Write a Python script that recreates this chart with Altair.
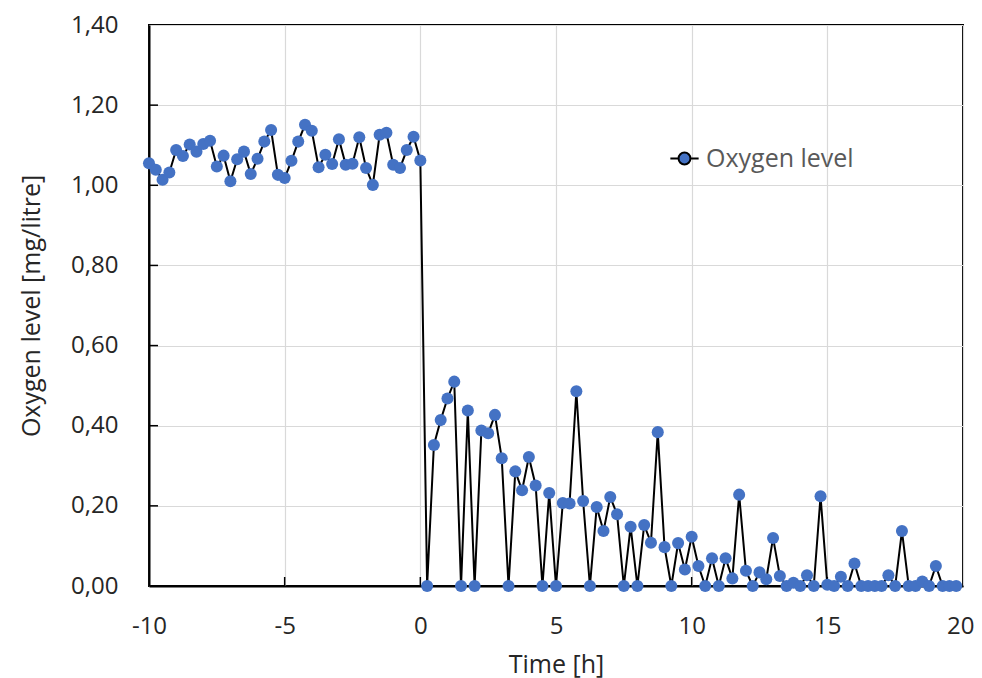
import altair as alt
import pandas as pd

# Time axis: one sample every quarter hour from -10 h to 19.75 h
time_h = [k / 4 for k in range(-40, 80)]

oxygen = [
    # -10 h .. 0 h
    1.055, 1.039, 1.014, 1.032, 1.088, 1.073, 1.102, 1.084, 1.103, 1.111,
    1.047, 1.074, 1.010, 1.065, 1.084, 1.028, 1.066, 1.109, 1.138, 1.026,
    1.018, 1.061, 1.109, 1.151, 1.136, 1.045, 1.076, 1.053, 1.115, 1.051,
    1.054, 1.120, 1.043, 1.001, 1.126, 1.131, 1.051, 1.043, 1.088, 1.121,
    1.062,
    # 0.25 h .. 10 h
    0.000, 0.352, 0.414, 0.468, 0.510, 0.000, 0.438, 0.000, 0.388, 0.381,
    0.427, 0.319, 0.000, 0.286, 0.239, 0.322, 0.251, 0.000, 0.232, 0.000,
    0.207, 0.206, 0.486, 0.212, 0.000, 0.197, 0.137, 0.222, 0.179, 0.000,
    0.148, 0.000, 0.152, 0.108, 0.384, 0.097, 0.000, 0.107, 0.041, 0.123,
    # 10.25 h .. 19.75 h
    0.050, 0.000, 0.069, 0.000, 0.069, 0.019, 0.228, 0.038, 0.000, 0.034,
    0.017, 0.120, 0.025, 0.000, 0.008, 0.000, 0.027, 0.000, 0.224, 0.003,
    0.000, 0.023, 0.000, 0.056, 0.000, 0.000, 0.000, 0.000, 0.027, 0.000,
    0.137, 0.000, 0.000, 0.011, 0.000, 0.050, 0.000, 0.000, 0.000,
]

x_ticks = [-10, -5, 0, 5, 10, 15, 20]
y_ticks = [0.0, 0.2, 0.4, 0.6, 0.8, 1.0, 1.2, 1.4]
series_name = "Oxygen level"

df = pd.DataFrame({"t": time_h, "v": oxygen, "series": series_name})
xt = pd.DataFrame({"t": x_ticks[1:-1]})
yt = pd.DataFrame({"v": y_ticks[1:-1]})

W, H = 814, 561
FONT = "Open Sans"
LABEL_COLOR = "#262626"

x_scale = alt.Scale(domain=[-10, 20], nice=False, zero=False)
y_scale = alt.Scale(domain=[0, 1.4], nice=False)

x_axis = alt.Axis(
    values=x_ticks, title="Time [h]", grid=True, ticks=False, tickSize=0,
    labelExpr="datum.value + ''", labelFlush=False,
    labelAlign={"condition": {"test": "datum.value == 20", "value": "right"},
                "value": "center"},
    labelOffset={"condition": {"test": "datum.value == 20", "value": 11},
                 "value": 0},
    labelPadding=28, titlePadding=14,
)
y_axis = alt.Axis(
    values=y_ticks, title="Oxygen level [mg/litre]", grid=True, ticks=False,
    tickSize=0, labelExpr="replace(format(datum.value, '.2f'), '.', ',')",
    labelFlush=False, labelPadding=31, titlePadding=26,
)

line = alt.Chart(df).mark_line(color="black", strokeWidth=2).encode(
    x=alt.X("t:Q", scale=x_scale, axis=x_axis),
    y=alt.Y("v:Q", scale=y_scale, axis=y_axis),
)

legend_path = (
    "M-1,0L-0.42,0M0.42,0L1,0"
    "M-0.42,0A0.42,0.42,0,1,1,0.42,0A0.42,0.42,0,1,1,-0.42,0Z"
)

points = alt.Chart(df).mark_circle(size=145, opacity=1).encode(
    x="t:Q",
    y="v:Q",
    color=alt.Color(
        "series:N",
        scale=alt.Scale(range=["#4472C4"]),
        legend=alt.Legend(
            title=None, orient="none", legendX=520, legendY=118,
            symbolType=legend_path, symbolSize=800, symbolStrokeColor="black",
            symbolStrokeWidth=2, symbolOpacity=1, labelFontSize=25,
            labelColor="#595959", labelFont=FONT, labelOffset=6,
        ),
    ),
)

ytick_rules = alt.Chart(yt).mark_rule(color="black", strokeWidth=1.5).encode(
    y="v:Q", x=alt.value(0), x2=alt.value(9)
)
xtick_rules = alt.Chart(xt).mark_rule(color="black", strokeWidth=1.5).encode(
    x="t:Q", y=alt.value(H), y2=alt.value(H - 9)
)

chart = (
    alt.layer(line, ytick_rules, xtick_rules, points)
    .properties(
        width=W, height=H,
        autosize=alt.AutoSizeParams(type="none"),
        padding={"left": 141, "top": 17, "right": 11, "bottom": 96},
    )
    .configure_view(stroke="black", strokeWidth=2)
    .configure_axis(
        domainColor="black", domainWidth=2, gridColor="#d9d9d9", gridWidth=1.2,
        labelFont=FONT, labelFontSize=24, labelColor=LABEL_COLOR,
        titleFont=FONT, titleFontSize=25, titleFontWeight="normal",
        titleColor=LABEL_COLOR,
    )
)

chart.save("out.html", embed_options={"renderer": "svg", "actions": False})
